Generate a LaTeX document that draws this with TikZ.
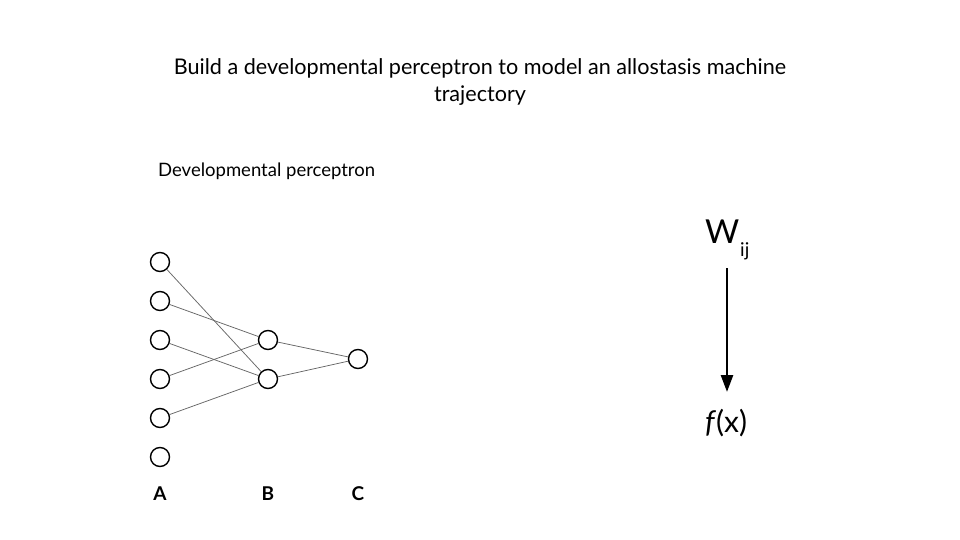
\documentclass[tikz,border=0pt]{standalone}
\usepackage{fontspec}
\setmainfont{Lato}
\usetikzlibrary{arrows.meta}
\begin{document}
\begin{tikzpicture}[x=1pt,y=-1pt,
  neuron/.style={circle,draw=black,line width=1.4pt,minimum size=19pt,inner sep=0pt},
  conn/.style={draw=black!60,line width=0.75pt},
  lbl/.style={font=\fontsize{19}{22}\selectfont\bfseries,inner sep=0pt}]
\useasboundingbox (0,0) rectangle (960,540);
\node[align=center,font=\fontsize{21.6}{27}\selectfont] (title) at (480,82) {Build a developmental perceptron to model an allostasis machine\\trajectory};
\node[anchor=west,font=\fontsize{18.5}{21}\selectfont,inner sep=0pt] (sub) at (158,171) {Developmental perceptron};
\foreach \i/\y in {1/262,2/301,3/340,4/379,5/418,6/457}
  \node[neuron] (a\i) at (160,\y) {};
\node[neuron] (b1) at (268,340) {};
\node[neuron] (b2) at (268,379) {};
\node[neuron] (c) at (358,359) {};
\draw[conn] (a1) -- (b2);
\draw[conn] (a2) -- (b1);
\draw[conn] (a3) -- (b2);
\draw[conn] (a4) -- (b1);
\draw[conn] (a5) -- (b2);
\draw[conn] (b1) -- (c);
\draw[conn] (b2) -- (c);
\node[lbl] (la) at (160,494) {A};
\node[lbl] (lb) at (268,494) {B};
\node[lbl] (lc) at (358,494) {C};
\node[inner sep=0pt,anchor=base west,font=\fontsize{33}{36}\selectfont] (w) at (705,243) {W};
\node[inner sep=0pt,anchor=base west,font=\fontsize{19}{20}\selectfont] (ij) at (740,256) {ij};
\node[inner sep=0pt,font=\fontsize{30}{33}\selectfont] (f) at (726,423) {\textit{f}(x)};
\coordinate (ws) at (727,268);
\coordinate (we) at (727,392);
\draw[line width=2.6pt,-{Triangle[length=17pt,width=12pt]}] (ws) -- (we);
\end{tikzpicture}
\end{document}
